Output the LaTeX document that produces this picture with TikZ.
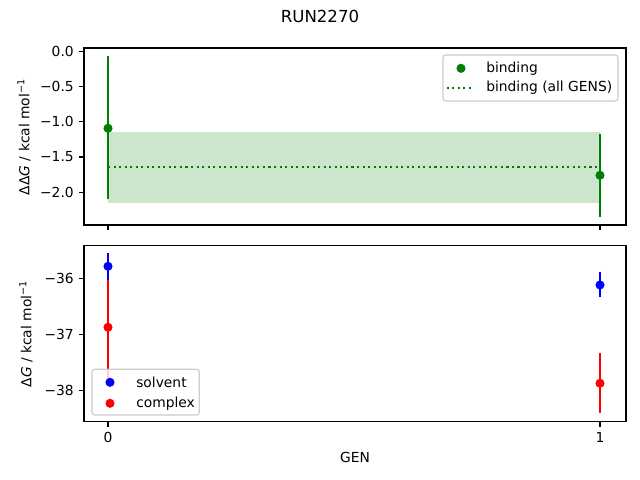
\documentclass[tikz,border=0pt]{standalone}
\usepackage{fontspec}
\setmainfont{DejaVu Sans}
\usetikzlibrary{positioning}

\definecolor{mplgreen}{HTML}{008000}

\begin{document}
\begin{tikzpicture}[x=0.0254cm,y=-0.0254cm,
    frame/.style={draw,line width=0.8pt},
    tick/.style={line width=0.8pt},
    dot/.style={circle,fill,inner sep=0pt,minimum size=6.6pt},
    bar/.style={line width=1.5pt},
    lbl/.style={font=\fontsize{10}{12}\selectfont,inner sep=0pt},
    legbox/.style={draw=black!20,fill=white,fill opacity=0.8,rounded corners=2pt,line width=0.8pt}]
    \fill[white] (0,0) rectangle (640,480);
    \useasboundingbox (0,0) rectangle (640,480);

    % top panel: binding
    \fill[mplgreen,opacity=0.2] (108,132.3) rectangle (600,202.7);
    \coordinate (m0) at (108,166.7);
    \coordinate (m1) at (600,166.7);
    \draw[mplgreen,bar,dash pattern=on 1.5pt off 2.5pt] (m0) -- (m1);
    \coordinate (b0t) at (108,56);
    \coordinate (b0b) at (108,199);
    \coordinate (b1t) at (600,134.3);
    \coordinate (b1b) at (600,216.7);
    \draw[mplgreen,bar] (b0t) -- (b0b) (b1t) -- (b1b);
    \node[dot,mplgreen] (bind0) at (108,128.3) {};
    \node[dot,mplgreen] (bind1) at (600,175.3) {};
    \draw[frame] (84,48) rectangle (626,225);
    \foreach \v/\t in {51.3/0.0,86.55/−0.5,121.8/−1.0,157.05/−1.5,192.3/−2.0}
        \draw[tick] (84,\v) -- (79.1,\v) node[lbl,anchor=east,xshift=-3.5pt] {\t};
    \foreach \g in {108,600}
        \draw[tick] (\g,225) -- (\g,229.9);
    \node[lbl,rotate=90] (ddg) at (24,137) {ΔΔ\textit{G} / kcal mol\textsuperscript{−1}};

    % legend, top
    \draw[legbox] (443,55) rectangle (618,101);
    \node[dot,mplgreen] (lbind) at (461,68.3) {};
    \coordinate (la) at (446.7,87.7);
    \coordinate (lb) at (474.3,87.7);
    \draw[mplgreen,bar,dash pattern=on 1.5pt off 2.5pt] (la) -- (lb);
    \node[lbl,anchor=west] at (486,68.3) {binding};
    \node[lbl,anchor=west] at (486,87.7) {binding (all GENS)};

    % bottom panel: solvent and complex
    \coordinate (c0t) at (108,271.3);
    \coordinate (c0b) at (108,383.3);
    \coordinate (c1t) at (600,353.3);
    \coordinate (c1b) at (600,413.3);
    \coordinate (s0t) at (108,252.7);
    \coordinate (s0b) at (108,280);
    \coordinate (s1t) at (600,272);
    \coordinate (s1b) at (600,297);
    \draw[red,bar] (c0t) -- (c0b) (c1t) -- (c1b);
    \node[dot,red] (cplx0) at (108,327.3) {};
    \node[dot,red] (cplx1) at (600,383.3) {};
    \draw[blue,bar] (s0t) -- (s0b) (s1t) -- (s1b);
    \node[dot,blue] (solv0) at (108,266.3) {};
    \node[dot,blue] (solv1) at (600,285) {};
    \draw[frame] (84,245.3) rectangle (626,421.7);
    \foreach \v/\t in {278.3/−36,334.3/−37,390.3/−38}
        \draw[tick] (84,\v) -- (79.1,\v) node[lbl,anchor=east,xshift=-3.5pt] {\t};
    \foreach \g/\t in {108/0,600/1}
        \draw[tick] (\g,421.7) -- (\g,426.6) node[lbl,anchor=north,yshift=-3.5pt] {\t};
    \node[lbl,rotate=90] (dg) at (26,334) {Δ\textit{G} / kcal mol\textsuperscript{−1}};
    \node[lbl] (gen) at (355,457.5) {GEN};

    % legend, bottom
    \draw[legbox] (92,369.3) rectangle (199.3,415);
    \node[dot,blue] (lsolv) at (110,382.3) {};
    \node[dot,red] (lcplx) at (110,403.3) {};
    \node[lbl,anchor=west] at (136,382.3) {solvent};
    \node[lbl,anchor=west] at (136,403.3) {complex};

    \node[font=\fontsize{12}{14}\selectfont] (title) at (320,16) {RUN2270};
\end{tikzpicture}
\end{document}
